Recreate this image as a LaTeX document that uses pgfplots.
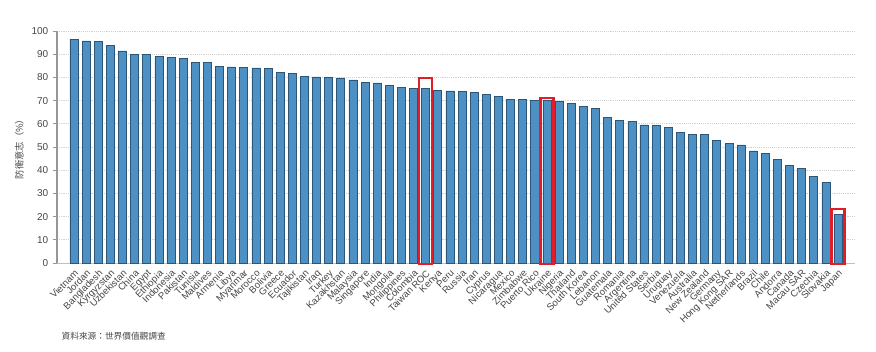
\documentclass[border=0pt]{standalone}
\usepackage{pgfplots}
\pgfplotsset{compat=1.18}
\usepackage{pgfplotstable}
\usepackage{fontspec}
\setmainfont{Liberation Sans}
\newfontfamily\cjk{Noto Sans CJK TC}
\definecolor{barfill}{RGB}{76,144,196}
\definecolor{baredge}{RGB}{45,85,120}
\definecolor{axgray}{RGB}{150,150,150}
\definecolor{txtgray}{RGB}{70,70,70}
\definecolor{hl}{RGB}{225,30,40}
\pgfplotstableread{
idx val
0 96.5
1 95.7
2 95.4
3 93.8
4 91.4
5 90.0
6 89.9
7 88.9
8 88.5
9 88.2
10 86.6
11 86.3
12 84.6
13 84.5
14 84.2
15 84.1
16 84.0
17 82.2
18 81.8
19 80.6
20 80.2
21 79.9
22 79.8
23 78.9
24 77.7
25 77.6
26 76.4
27 75.7
28 75.4
29 75.1
30 74.3
31 74.2
32 73.8
33 73.7
34 72.5
35 71.7
36 70.4
37 70.4
38 70.1
39 70.0
40 69.5
41 68.7
42 67.4
43 66.8
44 62.6
45 61.5
46 61.2
47 59.5
48 59.3
49 58.6
50 56.2
51 55.5
52 55.3
53 52.9
54 51.4
55 50.9
56 48.3
57 47.3
58 44.7
59 42.2
60 40.8
61 37.4
62 34.6
63 21.1
}\datatable
\begin{document}
\begin{tikzpicture}
\useasboundingbox (-42.75pt,-66.75pt) rectangle (614.25pt,197.25pt);
\begin{axis}[
  at={(0pt,0pt)}, anchor=south west,
  scale only axis,
  width=598.5pt, height=174pt,
  xmin=-1.4, xmax=64.4,
  ymin=0, ymax=100,
  ytick={0,10,...,100},
  xtick=data,
  xticklabels={Vietnam,Jordan,Bangladesh,Kyrgyzstan,Uzbekistan,China,Egypt,Ethiopia,Indonesia,Pakistan,Tunisia,Maldives,Armenia,Libya,Myanmar,Morocco,Bolivia,Greece,Ecuador,Tajikistan,Iraq,Turkey,Kazakhstan,Malaysia,Singapore,India,Mongolia,Philippines,Colombia,Taiwan ROC,Kenya,Peru,Russia,Iran,Cyprus,Nicaragua,Mexico,Zimbabwe,Puerto Rico,Ukraine,Nigeria,Thailand,South Korea,Lebanon,Guatemala,Romania,Argentina,United States,Serbia,Uruguay,Venezuela,Australia,New Zealand,Germany,Hong Kong SAR,Netherlands,Brazil,Chile,Andorra,Canada,Macau SAR,Czechia,Slovakia,Japan},
  x tick label style={rotate=45, anchor=north east, font=\fontsize{7.2}{8}\selectfont, text=txtgray, inner sep=1pt},
  y tick label style={font=\fontsize{7.5}{9}\selectfont, text=txtgray},
  /pgf/number format/assume math mode=true,
  axis x line*=bottom,
  axis y line*=left,
  x axis line style={draw=axgray!60, line width=0.5pt},
  y axis line style={draw=axgray, line width=1.2pt},
  major x tick style={draw=none},
  ytick style={draw=axgray, line width=0.6pt},
  tick align=outside,
  major tick length=3pt,
  ymajorgrids,
  grid style={densely dotted, draw=black!18, line width=0.5pt},
  ylabel={\cjk 防衛意志（\%）},
  every axis y label/.style={at={(ticklabel cs:0.5)}, rotate=90, anchor=near ticklabel, yshift=-1pt, font=\fontsize{7}{8}\selectfont, text=txtgray},
  clip=false,
]
\addplot[ybar, bar width=0.66, fill=barfill, draw=baredge, line width=0.5pt] table[x=idx, y=val] {\datatable};
\draw[hl, line width=1.8pt] (axis cs:28.46,-0.5) rectangle (axis cs:29.54,79.7);
\draw[hl, line width=1.8pt] (axis cs:38.46,-0.5) rectangle (axis cs:39.54,71.1);
\draw[hl, line width=1.8pt] (axis cs:62.46,-0.5) rectangle (axis cs:63.54,23.3);
\end{axis}
\node[anchor=west, font=\cjk\fontsize{6.5}{8}\selectfont, text=txtgray] at (0pt,-55pt) {資料來源：世界價值觀調查};
\end{tikzpicture}
\end{document}
